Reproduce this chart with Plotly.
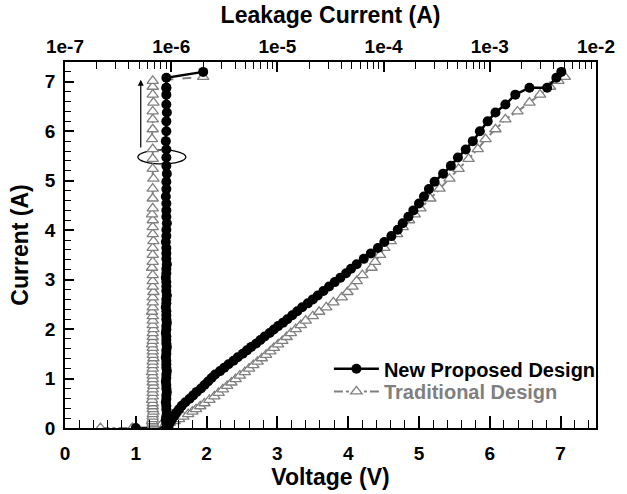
import plotly.graph_objects as go

# ---------------- data ----------------
# New Proposed Design: pulse current (A), I-V voltage (V), leakage current (A)
I_new = [0.00, 0.00, 0.02, 0.10, 0.17, 0.24, 0.31, 0.38, 0.45, 0.52,
         0.59, 0.66, 0.73, 0.80, 0.87, 0.94, 1.01, 1.08, 1.15, 1.22,
         1.29, 1.36, 1.43, 1.50, 1.57, 1.64, 1.71, 1.78, 1.85, 1.92,
         1.99, 2.06, 2.13, 2.20, 2.28, 2.36, 2.44, 2.52, 2.60, 2.68,
         2.77, 2.86, 2.95, 3.04, 3.13, 3.22, 3.31, 3.42, 3.53, 3.64,
         3.76, 3.88, 4.01, 4.14, 4.27, 4.40, 4.54, 4.68, 4.83, 4.98,
         5.14, 5.30, 5.47, 5.63, 5.80, 6.00, 6.20, 6.38, 6.54, 6.74,
         6.88, 6.88, 7.08, 7.20]
V_new = [1.00, 1.45, 1.46, 1.48, 1.51, 1.54, 1.57, 1.61, 1.65, 1.70,
         1.76, 1.81, 1.86, 1.92, 1.97, 2.02, 2.07, 2.12, 2.19, 2.25,
         2.31, 2.38, 2.44, 2.51, 2.57, 2.63, 2.70, 2.76, 2.82, 2.89,
         2.95, 3.01, 3.08, 3.14, 3.21, 3.28, 3.35, 3.43, 3.50, 3.57,
         3.65, 3.73, 3.81, 3.89, 3.97, 4.04, 4.12, 4.22, 4.32, 4.42,
         4.51, 4.61, 4.70, 4.77, 4.85, 4.92, 5.00, 5.07, 5.14, 5.22,
         5.34, 5.45, 5.55, 5.66, 5.76, 5.86, 5.97, 6.08, 6.22, 6.36,
         6.56, 6.81, 6.94, 7.01]
L_new = [9.0e-7, 9.0e-7, 9.1e-7, 9.0e-7, 8.9e-7, 9.0e-7, 9.1e-7, 9.0e-7, 9.0e-7, 8.9e-7,
         9.0e-7, 9.0e-7, 9.1e-7, 9.0e-7, 9.0e-7, 8.9e-7, 9.0e-7, 9.0e-7, 9.1e-7, 9.0e-7,
         9.0e-7, 9.0e-7, 8.9e-7, 9.0e-7, 9.0e-7, 9.1e-7, 9.0e-7, 9.0e-7, 9.0e-7, 8.9e-7,
         9.0e-7, 9.0e-7, 9.1e-7, 9.0e-7, 9.0e-7, 9.0e-7, 8.9e-7, 9.0e-7, 9.0e-7, 9.1e-7,
         9.0e-7, 9.0e-7, 9.0e-7, 8.9e-7, 9.0e-7, 9.0e-7, 9.1e-7, 9.0e-7, 9.0e-7, 9.0e-7,
         8.9e-7, 9.0e-7, 9.0e-7, 9.1e-7, 9.0e-7, 9.0e-7, 9.0e-7, 8.9e-7, 9.0e-7, 9.0e-7,
         9.1e-7, 9.0e-7, 9.0e-7, 9.0e-7, 8.9e-7, 9.0e-7, 9.0e-7, 9.1e-7, 9.0e-7, 9.0e-7,
         9.0e-7, 9.0e-7, 9.0e-7, 2.0e-6]

# Traditional Design
I_trad = [0.00, 0.00, 0.00, 0.02, 0.05, 0.08, 0.11, 0.14, 0.18, 0.23,
          0.28, 0.33, 0.38, 0.44, 0.50, 0.57, 0.64, 0.71, 0.78, 0.85,
          0.92, 0.99, 1.06, 1.13, 1.20, 1.27, 1.34, 1.41, 1.48, 1.55,
          1.62, 1.69, 1.76, 1.84, 1.92, 2.00, 2.08, 2.17, 2.26, 2.35,
          2.44, 2.54, 2.64, 2.75, 2.86, 2.97, 3.09, 3.24, 3.36, 3.50,
          3.64, 3.78, 3.92, 4.06, 4.20, 4.32, 4.44, 4.64, 4.84, 5.04,
          5.24, 5.44, 5.64, 5.84, 6.04, 6.24, 6.40, 6.58, 6.74, 6.90,
          7.02, 7.10]
V_trad = [0.50, 0.95, 1.20, 1.27, 1.35, 1.42, 1.48, 1.55, 1.61, 1.67,
          1.74, 1.80, 1.85, 1.91, 1.97, 2.04, 2.11, 2.17, 2.23, 2.29,
          2.35, 2.41, 2.47, 2.54, 2.60, 2.66, 2.72, 2.78, 2.84, 2.90,
          2.95, 3.01, 3.07, 3.13, 3.19, 3.26, 3.33, 3.40, 3.50, 3.59,
          3.69, 3.79, 3.91, 3.99, 4.06, 4.12, 4.20, 4.33, 4.38, 4.45,
          4.51, 4.60, 4.69, 4.77, 4.86, 4.94, 5.02, 5.16, 5.29, 5.43,
          5.56, 5.70, 5.83, 5.94, 6.08, 6.22, 6.39, 6.56, 6.71, 6.85,
          6.97, 7.06]
L_trad = [6.7e-7, 6.7e-7, 6.7e-7, 6.7e-7, 6.8e-7, 6.7e-7, 6.7e-7, 6.6e-7, 6.7e-7, 6.7e-7,
          6.7e-7, 6.8e-7, 6.7e-7, 6.7e-7, 6.7e-7, 6.6e-7, 6.7e-7, 6.7e-7, 6.7e-7, 6.8e-7,
          6.7e-7, 6.7e-7, 6.7e-7, 6.6e-7, 6.7e-7, 6.7e-7, 6.7e-7, 6.8e-7, 6.7e-7, 6.7e-7,
          6.7e-7, 6.6e-7, 6.7e-7, 6.7e-7, 6.7e-7, 6.8e-7, 6.7e-7, 6.7e-7, 6.7e-7, 6.6e-7,
          6.7e-7, 6.7e-7, 6.7e-7, 6.8e-7, 6.7e-7, 6.7e-7, 6.7e-7, 6.6e-7, 6.7e-7, 6.7e-7,
          6.7e-7, 6.8e-7, 6.7e-7, 6.7e-7, 6.7e-7, 6.6e-7, 6.7e-7, 6.7e-7, 6.7e-7, 6.8e-7,
          6.7e-7, 6.7e-7, 6.7e-7, 6.6e-7, 6.7e-7, 6.7e-7, 6.7e-7, 6.8e-7, 6.7e-7, 6.7e-7,
          6.7e-7, 2.0e-6]

top_tickvals = [1e-7, 1e-6, 1e-5, 1e-4, 1e-3, 1e-2]
top_ticktext = ["1e-7", "1e-6", "1e-5", "1e-4", "1e-3", "1e-2"]
top_minor = [m * 10.0 ** e for e in range(-7, -2) for m in range(2, 10)]

# ---------------- figure ----------------
FONT = "Liberation Sans, Arial, Helvetica, sans-serif"
GRAY = "#808080"
BLACK = "#000000"

fig = go.Figure()

fig.add_trace(go.Scatter(
    x=V_trad, y=I_trad, mode="lines+markers",
    name="<span style='color:#7f7f7f'>Traditional Design</span>",
    legend="legend2",
    line=dict(color=GRAY, width=2, dash="dashdot"),
    marker=dict(symbol="triangle-up", size=10, color="white",
                line=dict(color=GRAY, width=1.3)),
))
fig.add_trace(go.Scatter(
    x=L_trad, y=I_trad, xaxis="x2", mode="lines+markers", showlegend=False,
    line=dict(color=GRAY, width=2, dash="dash"),
    marker=dict(symbol="triangle-up", size=10, color="white",
                line=dict(color=GRAY, width=1.3)),
))
fig.add_trace(go.Scatter(
    x=V_new, y=I_new, mode="lines+markers", name="New Proposed Design",
    legend="legend",
    line=dict(color=BLACK, width=2.5),
    marker=dict(symbol="circle", size=10, color=BLACK),
))
fig.add_trace(go.Scatter(
    x=L_new, y=I_new, xaxis="x2", mode="lines+markers", showlegend=False,
    line=dict(color=BLACK, width=2.5),
    marker=dict(symbol="circle", size=10, color=BLACK),
))

axis_common = dict(
    showline=True, linecolor="black", linewidth=1.5,
    ticks="inside", tickcolor="black", tickwidth=1.5,
    showgrid=False, zeroline=False,
    tickfont=dict(family=FONT, size=19, color="black", weight="bold"),
)
title_font = dict(family=FONT, size=23, color="black", weight="bold")
legend_common = dict(
    xanchor="left", yanchor="middle",
    bgcolor="rgba(0,0,0,0)", borderwidth=0,
    font=dict(family=FONT, size=20, color="black", weight="bold"),
    itemwidth=45,
)

fig.update_layout(
    width=627, height=494,
    margin=dict(l=65, r=21, t=62, b=62),
    paper_bgcolor="white", plot_bgcolor="white",
    font=dict(family=FONT, color="black"),
    xaxis=dict(
        range=[0, 7.5], dtick=1, tick0=0, ticklen=12, ticklabelstandoff=7,
        minor=dict(dtick=0.2, tick0=0, ticks="inside", ticklen=8,
                   tickcolor="black", tickwidth=1.2),
        title=dict(text="Voltage (V)", standoff=2, font=title_font),
        **axis_common,
    ),
    xaxis2=dict(
        type="log", range=[-7, -2], overlaying="x", side="top", anchor="y",
        tickmode="array", tickvals=top_tickvals, ticktext=top_ticktext, ticklen=10,
        minor=dict(tickmode="array", tickvals=top_minor, ticks="inside", ticklen=7,
                   tickcolor="black", tickwidth=1.2),
        title=dict(text="Leakage Current (A)", standoff=6, font=title_font),
        **axis_common,
    ),
    yaxis=dict(
        range=[0, 7.4], dtick=1, tick0=0, ticklen=9, mirror=True, ticklabelstandoff=4,
        minor=dict(dtick=0.2, tick0=0, ticks="inside", ticklen=6,
                   tickcolor="black", tickwidth=1.2),
        title=dict(text="Current (A)", standoff=10, font=title_font),
        **axis_common,
    ),
    legend=dict(x=0.497, y=0.162, **legend_common),
    legend2=dict(x=0.497, y=0.1, **legend_common),
    showlegend=True,
)

# arrow pointing to the top (leakage) axis
fig.add_annotation(
    x=1.07, y=7.04, ax=1.07, ay=5.64, xref="x", yref="y", axref="x", ayref="y",
    text="", showarrow=True, arrowhead=2, arrowsize=1, arrowwidth=1.2, arrowcolor="black",
)
# ellipse around the leakage columns
fig.add_shape(
    type="circle", xref="x", yref="y", xsizemode="pixel", ysizemode="pixel",
    xanchor=1.368, yanchor=5.48, x0=-24, x1=24, y0=-7, y1=7,
    line=dict(color="black", width=1.3), layer="below",
)

fig.write_html("out.html")
